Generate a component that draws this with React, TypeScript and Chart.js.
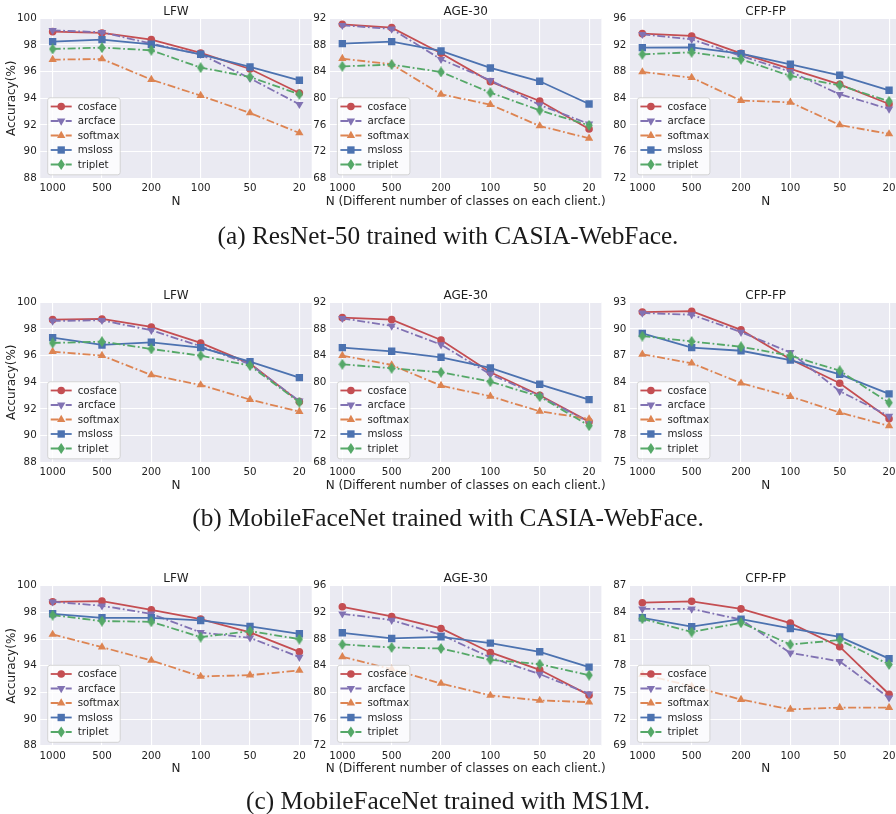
import React, { useEffect, useRef } from 'react';
import { Chart, registerables } from 'chart.js';

Chart.register(...registerables);

// ---------- data ----------
const N_LABELS = ['1000', '500', '200', '100', '50', '20'];
const METHODS = ['cosface', 'arcface', 'softmax', 'msloss', 'triplet'];

const Y_TICKS_LFW = [88, 90, 92, 94, 96, 98, 100];
const Y_TICKS_A_AGE = [68, 72, 76, 80, 84, 88, 92];
const Y_TICKS_A_CFP = [72, 76, 80, 84, 88, 92, 96];
const Y_TICKS_B_AGE = [68, 72, 76, 80, 84, 88, 92];
const Y_TICKS_B_CFP = [75, 78, 81, 84, 87, 90, 93];
const Y_TICKS_C_AGE = [72, 76, 80, 84, 88, 92, 96];
const Y_TICKS_C_CFP = [69, 72, 75, 78, 81, 84, 87];

// (a) ResNet-50 trained with CASIA-WebFace
const A_LFW_COSFACE = [99.0, 98.9, 98.4, 97.4, 96.2, 94.4];
const A_LFW_ARCFACE = [99.1, 98.95, 98.1, 97.3, 95.5, 93.55];
const A_LFW_SOFTMAX = [96.9, 96.95, 95.4, 94.2, 92.9, 91.4];
const A_LFW_MSLOSS = [98.25, 98.4, 98.05, 97.3, 96.35, 95.35];
const A_LFW_TRIPLET = [97.7, 97.8, 97.6, 96.3, 95.6, 94.3];

const A_AGE_COSFACE = [91.1, 90.6, 86.75, 82.5, 79.6, 75.4];
const A_AGE_ARCFACE = [90.95, 90.4, 85.85, 82.7, 79.0, 76.15];
const A_AGE_SOFTMAX = [85.95, 85.1, 80.6, 79.05, 75.85, 74.0];
const A_AGE_MSLOSS = [88.2, 88.5, 87.1, 84.55, 82.55, 79.15];
const A_AGE_TRIPLET = [84.8, 85.05, 83.95, 80.85, 78.2, 75.95];

const A_CFP_COSFACE = [93.7, 93.35, 90.75, 88.4, 86.1, 83.15];
const A_CFP_ARCFACE = [93.6, 92.85, 90.35, 88.0, 84.6, 82.4];
const A_CFP_SOFTMAX = [87.95, 87.1, 83.65, 83.4, 80.0, 78.65];
const A_CFP_MSLOSS = [91.6, 91.65, 90.7, 89.1, 87.45, 85.2];
const A_CFP_TRIPLET = [90.6, 90.9, 89.85, 87.35, 85.95, 83.55];

// (b) MobileFaceNet trained with CASIA-WebFace
const B_LFW_COSFACE = [98.7, 98.75, 98.15, 96.95, 95.4, 92.55];
const B_LFW_ARCFACE = [98.6, 98.65, 97.9, 96.7, 95.35, 92.6];
const B_LFW_SOFTMAX = [96.3, 96.0, 94.55, 93.8, 92.7, 91.8];
const B_LFW_MSLOSS = [97.35, 96.8, 97.0, 96.6, 95.55, 94.35];
const B_LFW_TRIPLET = [96.95, 97.05, 96.5, 96.0, 95.25, 92.5];

const B_AGE_COSFACE = [89.7, 89.4, 86.35, 81.5, 78.05, 74.1];
const B_AGE_ARCFACE = [89.6, 88.45, 85.65, 81.2, 77.95, 74.0];
const B_AGE_SOFTMAX = [84.0, 82.6, 79.5, 77.9, 75.65, 74.5];
const B_AGE_MSLOSS = [85.2, 84.65, 83.75, 82.15, 79.7, 77.4];
const B_AGE_TRIPLET = [82.7, 82.1, 81.5, 80.1, 77.85, 73.5];

const B_CFP_COSFACE = [91.9, 92.0, 89.9, 86.6, 83.9, 79.9];
const B_CFP_ARCFACE = [91.8, 91.6, 89.65, 87.35, 83.0, 80.2];
const B_CFP_SOFTMAX = [87.15, 86.15, 83.9, 82.4, 80.6, 79.1];
const B_CFP_MSLOSS = [89.5, 87.9, 87.55, 86.5, 84.9, 82.7];
const B_CFP_TRIPLET = [89.2, 88.6, 88.0, 87.0, 85.3, 81.7];

// (c) MobileFaceNet trained with MS1M
const C_LFW_COSFACE = [98.8, 98.85, 98.2, 97.5, 96.5, 95.05];
const C_LFW_ARCFACE = [98.8, 98.5, 97.9, 96.5, 96.1, 94.65];
const C_LFW_SOFTMAX = [96.35, 95.4, 94.4, 93.2, 93.3, 93.65];
const C_LFW_MSLOSS = [97.9, 97.6, 97.6, 97.4, 96.95, 96.4];
const C_LFW_TRIPLET = [97.8, 97.35, 97.3, 96.15, 96.6, 96.0];

const C_AGE_COSFACE = [92.85, 91.4, 89.6, 86.0, 83.4, 79.6];
const C_AGE_ARCFACE = [91.8, 90.85, 88.65, 85.25, 82.75, 79.8];
const C_AGE_SOFTMAX = [85.35, 83.5, 81.35, 79.55, 78.8, 78.55];
const C_AGE_MSLOSS = [88.95, 88.1, 88.35, 87.4, 86.1, 83.8];
const C_AGE_TRIPLET = [87.2, 86.75, 86.6, 84.9, 84.25, 82.6];

const C_CFP_COSFACE = [85.1, 85.25, 84.4, 82.8, 80.15, 74.8];
const C_CFP_ARCFACE = [84.4, 84.4, 83.2, 79.45, 78.5, 74.4];
const C_CFP_SOFTMAX = [77.05, 75.7, 74.2, 73.1, 73.3, 73.3];
const C_CFP_MSLOSS = [83.4, 82.4, 83.25, 82.2, 81.25, 78.8];
const C_CFP_TRIPLET = [83.3, 81.8, 82.85, 80.4, 80.9, 78.15];

const CAPTIONS = [
  '(a) ResNet-50 trained with CASIA-WebFace.',
  '(b) MobileFaceNet trained with CASIA-WebFace.',
  '(c) MobileFaceNet trained with MS1M.',
];
const TITLES = ['LFW', 'AGE-30', 'CFP-FP'];
const X_TITLES = ['N', 'N (Different number of classes on each client.)', 'N'];
const Y_TITLE = 'Accuracy(%)';

// ---------- styles ----------
const COLORS = ['#C44E52', '#8172B3', '#DD8452', '#4C72B0', '#55A868'];
const DASH_DOT = [8, 2.6, 1.8, 2.6];
const DASHES = [[], DASH_DOT, DASH_DOT, [], DASH_DOT];
const FONT = 'DejaVu Sans';
const TEXT_COLOR = '#1f1f1f';
const BG = '#EAEAF2';
const LINE_W = 1.8;

function thinDiamond(color: string) {
  const c = document.createElement('canvas');
  c.width = 8;
  c.height = 11;
  const ctx = c.getContext('2d')!;
  ctx.fillStyle = color;
  ctx.beginPath();
  ctx.moveTo(4, 0);
  ctx.lineTo(7.7, 5.5);
  ctx.lineTo(4, 11);
  ctx.lineTo(0.3, 5.5);
  ctx.closePath();
  ctx.fill();
  return c;
}

function pointStyleFor(i: number): any {
  if (i === 0) return 'circle';
  if (i === 1 || i === 2) return 'triangle';
  if (i === 3) return 'rect';
  return thinDiamond(COLORS[4]);
}
const POINT_RADIUS = [3.8, 4.8, 4.8, 5.2, 4];
const POINT_ROT = [0, 180, 0, 0, 0];

function drawMarker(ctx: CanvasRenderingContext2D, i: number, x: number, y: number) {
  ctx.save();
  ctx.fillStyle = COLORS[i];
  ctx.beginPath();
  if (i === 0) {
    ctx.arc(x, y, POINT_RADIUS[0], 0, Math.PI * 2);
  } else if (i === 1 || i === 2) {
    const r = POINT_RADIUS[i];
    let rad = (POINT_ROT[i] * Math.PI) / 180;
    ctx.moveTo(x + Math.sin(rad) * r, y - Math.cos(rad) * r);
    rad += (2 * Math.PI) / 3;
    ctx.lineTo(x + Math.sin(rad) * r, y - Math.cos(rad) * r);
    rad += (2 * Math.PI) / 3;
    ctx.lineTo(x + Math.sin(rad) * r, y - Math.cos(rad) * r);
    ctx.closePath();
  } else if (i === 3) {
    const s = POINT_RADIUS[3] * Math.SQRT1_2;
    ctx.rect(x - s, y - s, 2 * s, 2 * s);
  } else {
    ctx.moveTo(x, y - 5.5);
    ctx.lineTo(x + 3.7, y);
    ctx.lineTo(x, y + 5.5);
    ctx.lineTo(x - 3.7, y);
    ctx.closePath();
  }
  ctx.fill();
  ctx.restore();
}

const bgPlugin = {
  id: 'bgArea',
  beforeDraw(chart: any) {
    const { ctx, chartArea: a } = chart;
    ctx.save();
    ctx.fillStyle = BG;
    ctx.fillRect(a.left, a.top, a.right - a.left, a.bottom - a.top);
    ctx.restore();
  },
};

const legendPlugin = {
  id: 'insideLegend',
  afterDatasetsDraw(chart: any) {
    const { ctx, chartArea: a } = chart;
    const bw = 72.5;
    const bh = 77;
    const bx = a.left + 7.4;
    const by = a.bottom - 3.5 - bh;
    ctx.save();
    ctx.beginPath();
    const r = 2.5;
    ctx.moveTo(bx + r, by);
    ctx.lineTo(bx + bw - r, by);
    ctx.arcTo(bx + bw, by, bx + bw, by + r, r);
    ctx.lineTo(bx + bw, by + bh - r);
    ctx.arcTo(bx + bw, by + bh, bx + bw - r, by + bh, r);
    ctx.lineTo(bx + r, by + bh);
    ctx.arcTo(bx, by + bh, bx, by + bh - r, r);
    ctx.lineTo(bx, by + r);
    ctx.arcTo(bx, by, bx + r, by, r);
    ctx.closePath();
    ctx.fillStyle = 'rgba(255,255,255,0.8)';
    ctx.fill();
    ctx.strokeStyle = 'rgba(204,204,204,0.8)';
    ctx.lineWidth = 1;
    ctx.stroke();
    METHODS.forEach((m, i) => {
      const y = by + 8.7 + i * 14.5;
      ctx.save();
      ctx.strokeStyle = COLORS[i];
      ctx.lineWidth = LINE_W;
      ctx.setLineDash(DASHES[i]);
      ctx.beginPath();
      ctx.moveTo(bx + 3, y);
      ctx.lineTo(bx + 24, y);
      ctx.stroke();
      ctx.restore();
      drawMarker(ctx, i, bx + 13.5, y);
      ctx.fillStyle = TEXT_COLOR;
      ctx.font = `10.3px "${FONT}"`;
      ctx.textAlign = 'left';
      ctx.textBaseline = 'middle';
      ctx.fillText(m, bx + 30, y + 0.5);
    });
    ctx.restore();
  },
};

const textPlugin = {
  id: 'panelTexts',
  afterDraw(chart: any) {
    const { ctx, chartArea: a } = chart;
    const o = chart.options.plugins.panelTexts;
    const cx = (a.left + a.right) / 2;
    ctx.save();
    ctx.fillStyle = TEXT_COLOR;
    ctx.font = `12px "${FONT}"`;
    ctx.textAlign = 'center';
    ctx.textBaseline = 'middle';
    ctx.fillText(o.title, cx, a.top - 6.6);
    ctx.fillText(o.xTitle, cx, a.bottom + 23.4);
    if (o.yTitle) {
      ctx.translate(11.5, (a.top + a.bottom) / 2);
      ctx.rotate(-Math.PI / 2);
      ctx.fillText(o.yTitle, 0, 0);
    }
    ctx.restore();
  },
};

type PanelProps = {
  series: number[][];
  yTicks: number[];
  title: string;
  xTitle: string;
  yTitle?: string;
  canvasLeft: number;
  canvasTop: number;
  plotLeft: number;
  plotTop: number;
};

const CANVAS_W = 320;
const CANVAS_H = 230;
const PLOT_W = 271.4;
const PLOT_H = 160;

function Panel(p: PanelProps) {
  const ref = useRef<HTMLCanvasElement>(null);
  useEffect(() => {
    const canvas = ref.current!;
    const yMin = p.yTicks[0];
    const yMax = p.yTicks[p.yTicks.length - 1];
    const padTop = p.plotTop - p.canvasTop;
    const yAxisW = p.plotLeft - p.canvasLeft;
    const padRight = CANVAS_W - yAxisW - PLOT_W;
    const xAxisH = CANVAS_H - padTop - PLOT_H;
    const chart = new Chart(canvas, {
      type: 'line',
      data: {
        datasets: p.series.map((vals, i) => ({
          label: METHODS[i],
          data: vals.map((v, k) => ({ x: k, y: v })),
          borderColor: COLORS[i],
          backgroundColor: COLORS[i],
          borderWidth: LINE_W,
          borderDash: DASHES[i],
          pointStyle: pointStyleFor(i),
          pointRadius: POINT_RADIUS[i],
          pointRotation: POINT_ROT[i],
          pointBorderWidth: 0,
          pointBackgroundColor: COLORS[i],
          tension: 0,
          order: 4 - i,
        })),
      },
      options: {
        responsive: false,
        animation: false,
        devicePixelRatio: 1,
        events: [],
        layout: { padding: { left: 0, top: padTop, right: padRight, bottom: 0 } },
        plugins: {
          legend: { display: false },
          tooltip: { enabled: false },
          title: { display: false },
          panelTexts: { title: p.title, xTitle: p.xTitle, yTitle: p.yTitle },
        } as any,
        scales: {
          x: {
            type: 'linear',
            min: -0.25,
            max: 5.25,
            afterBuildTicks: (s: any) => {
              s.ticks = N_LABELS.map((_, i) => ({ value: i }));
            },
            afterFit: (s: any) => {
              s.height = xAxisH;
            },
            grid: { color: '#FFFFFF', lineWidth: 1.1, drawTicks: false },
            border: { display: false },
            ticks: {
              callback: (v: any) => N_LABELS[Math.round(v)],
              font: { family: FONT, size: 10.3 },
              color: TEXT_COLOR,
              padding: 4,
              autoSkip: false,
              maxRotation: 0,
            },
          },
          y: {
            type: 'linear',
            min: yMin,
            max: yMax,
            afterBuildTicks: (s: any) => {
              s.ticks = p.yTicks.map((v) => ({ value: v }));
            },
            afterFit: (s: any) => {
              s.width = yAxisW;
            },
            grid: { color: '#FFFFFF', lineWidth: 1.1, drawTicks: false },
            border: { display: false },
            ticks: {
              callback: (v: any) => String(v),
              font: { family: FONT, size: 10.3 },
              color: TEXT_COLOR,
              padding: 3.6,
            },
          },
        },
      },
      plugins: [bgPlugin, legendPlugin, textPlugin],
    } as any);
    return () => chart.destroy();
  }, []);
  return (
    <canvas
      ref={ref}
      width={CANVAS_W}
      height={CANVAS_H}
      style={{ position: 'absolute', left: p.canvasLeft, top: p.canvasTop, width: CANVAS_W, height: CANVAS_H }}
    />
  );
}

const ROWS = [
  {
    series: [
      [A_LFW_COSFACE, A_LFW_ARCFACE, A_LFW_SOFTMAX, A_LFW_MSLOSS, A_LFW_TRIPLET],
      [A_AGE_COSFACE, A_AGE_ARCFACE, A_AGE_SOFTMAX, A_AGE_MSLOSS, A_AGE_TRIPLET],
      [A_CFP_COSFACE, A_CFP_ARCFACE, A_CFP_SOFTMAX, A_CFP_MSLOSS, A_CFP_TRIPLET],
    ],
    ticks: [Y_TICKS_LFW, Y_TICKS_A_AGE, Y_TICKS_A_CFP],
  },
  {
    series: [
      [B_LFW_COSFACE, B_LFW_ARCFACE, B_LFW_SOFTMAX, B_LFW_MSLOSS, B_LFW_TRIPLET],
      [B_AGE_COSFACE, B_AGE_ARCFACE, B_AGE_SOFTMAX, B_AGE_MSLOSS, B_AGE_TRIPLET],
      [B_CFP_COSFACE, B_CFP_ARCFACE, B_CFP_SOFTMAX, B_CFP_MSLOSS, B_CFP_TRIPLET],
    ],
    ticks: [Y_TICKS_LFW, Y_TICKS_B_AGE, Y_TICKS_B_CFP],
  },
  {
    series: [
      [C_LFW_COSFACE, C_LFW_ARCFACE, C_LFW_SOFTMAX, C_LFW_MSLOSS, C_LFW_TRIPLET],
      [C_AGE_COSFACE, C_AGE_ARCFACE, C_AGE_SOFTMAX, C_AGE_MSLOSS, C_AGE_TRIPLET],
      [C_CFP_COSFACE, C_CFP_ARCFACE, C_CFP_SOFTMAX, C_CFP_MSLOSS, C_CFP_TRIPLET],
    ],
    ticks: [Y_TICKS_LFW, Y_TICKS_C_AGE, Y_TICKS_C_CFP],
  },
];

const COL_CANVAS_LEFT = [0, 290, 590];
const COL_PLOT_LEFT = [40.3, 330, 630];
const ROW_CANVAS_TOP = [0, 280, 565];
const ROW_PLOT_TOP = [18.3, 302.3, 585.8];
const CAPTION_Y = [235, 517, 800];

export default function App() {
  return (
    <div
      style={{
        position: 'absolute',
        left: 0,
        top: 0,
        width: 896,
        height: 814,
        overflow: 'hidden',
        background: '#FFFFFF',
      }}
    >
      {ROWS.map((row, r) =>
        row.series.map((ser, c) => (
          <Panel
            key={`${r}-${c}`}
            series={ser}
            yTicks={row.ticks[c]}
            title={TITLES[c]}
            xTitle={X_TITLES[c]}
            yTitle={c === 0 ? Y_TITLE : undefined}
            canvasLeft={COL_CANVAS_LEFT[c]}
            canvasTop={ROW_CANVAS_TOP[r]}
            plotLeft={COL_PLOT_LEFT[c]}
            plotTop={ROW_PLOT_TOP[r]}
          />
        ))
      )}
      {CAPTIONS.map((cap, r) => (
        <div
          key={cap}
          style={{
            position: 'absolute',
            left: 0,
            width: 896,
            top: CAPTION_Y[r] - 15,
            height: 30,
            lineHeight: '30px',
            textAlign: 'center',
            fontFamily: '"Liberation Serif", "Times New Roman", serif',
            fontSize: 25.3,
            color: '#1a1a1a',
            whiteSpace: 'nowrap',
          }}
        >
          {cap}
        </div>
      ))}
    </div>
  );
}
